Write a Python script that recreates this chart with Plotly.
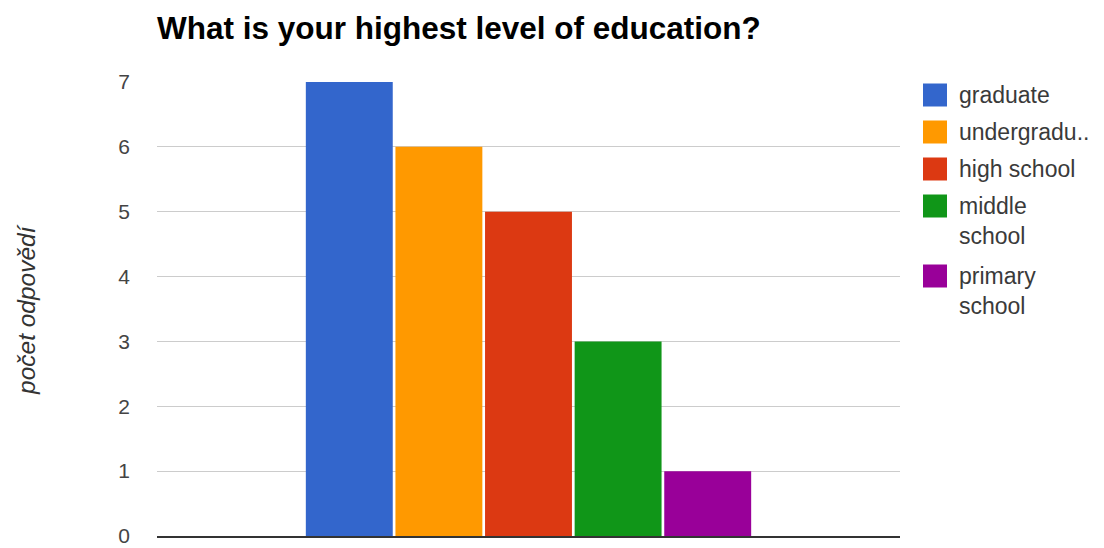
import plotly.graph_objects as go

# ---- data ----
categories = ["graduate", "undergraduate", "high school", "middle school", "primary school"]
legend_labels = ["graduate", "undergradu..", "high school", "middle<br>school", "primary<br>school"]
counts = [7, 6, 5, 3, 1]
colors = ["#3366cc", "#ff9900", "#dc3912", "#109618", "#990099"]
y_ticks = [0, 1, 2, 3, 4, 5, 6, 7]
title_text = "What is your highest level of education?"
y_title = "počet odpovědí"
question = ["Q"]

W, H = 1104, 548
L, R, T, B = 157, 900, 82, 536  # plot area in pixels

def px_x(px):
    return (px - L) / (R - L)

def px_y(py):
    return (B - py) / (B - T)

fig = go.Figure()
for cat, val, col in zip(categories, counts, colors):
    fig.add_trace(go.Bar(
        x=question, y=[val], name=cat,
        marker=dict(color=col, line=dict(width=0)),
        showlegend=False,
    ))

# custom legend (large swatches like the reference)
shapes = []
annotations = []
center = 95
for lab, col in zip(legend_labels, colors):
    nlines = lab.count("<br>") + 1
    shapes.append(dict(type="rect", xref="paper", yref="paper",
                       x0=px_x(923), x1=px_x(947),
                       y0=px_y(center + 11.5), y1=px_y(center - 11.5),
                       fillcolor=col, line=dict(width=0)))
    annotations.append(dict(xref="paper", yref="paper",
                            x=px_x(957), y=px_y(center - 15),
                            xanchor="left", yanchor="top", align="left",
                            text=lab, showarrow=False,
                            font=dict(family="Arial, Liberation Sans, sans-serif", size=23, color="#3a3a3a")))
    center += 37 + 33 * (nlines - 1)

# y axis title
annotations.append(dict(xref="paper", yref="paper",
                        x=px_x(26), y=px_y(310),
                        xanchor="center", yanchor="middle",
                        text="<i>" + y_title + "</i>", textangle=-90, showarrow=False,
                        font=dict(family="Arial, Liberation Sans, sans-serif", size=24.5, color="#333")))

fig.update_layout(
    width=W, height=H,
    margin=dict(l=L, r=W - R, t=T, b=H - B, pad=0, autoexpand=False),
    paper_bgcolor="white", plot_bgcolor="white",
    barmode="group", bargap=0.397, bargroupgap=0.03,
    title=dict(text="<b>" + title_text + "</b>", x=157 / W, xanchor="left",
               xref="container", yref="container", y=1 - 28 / H, yanchor="middle",
               font=dict(family="Arial, Liberation Sans, sans-serif", size=31.5, color="#000")),
    xaxis=dict(type="category", range=[-0.5, 0.5], showticklabels=False, showgrid=False,
               showline=True, linecolor="#333", linewidth=1.5, ticks="", zeroline=False,
               fixedrange=True, automargin=False),
    yaxis=dict(range=[0, 7], tickvals=y_ticks, showgrid=True, gridcolor="#cccccc", gridwidth=1,
               zeroline=False, showline=False, ticks="", ticklabelstandoff=26,
               ticklabeloverflow="allow", automargin=False,
               tickfont=dict(family="Arial, Liberation Sans, sans-serif", size=21, color="#444")),
    shapes=shapes,
    annotations=annotations,
    showlegend=False,
    font=dict(family="Arial, Liberation Sans, sans-serif"),
)

fig.write_html("out.html")
